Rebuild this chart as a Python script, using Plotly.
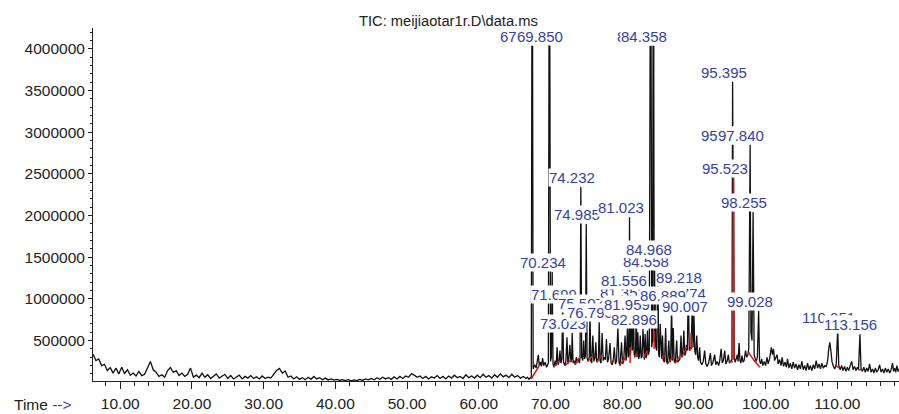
import plotly.graph_objects as go

# ---------------- data (counts in thousands, times in minutes) ----------------
QUIET_T0 = 6.2
QUIET_DT = 0.4
quiet_tic_k = [
    340, 260, 280, 200, 215, 140, 175, 110, 170, 100,
    180, 105, 150, 85, 110, 75, 130, 80, 95, 180,
    250, 150, 120, 70, 90, 60, 140, 175, 120, 140,
    80, 110, 70, 95, 170, 60, 85, 55, 110, 60,
    90, 45, 75, 100, 50, 70, 95, 45, 80, 40,
    60, 85, 40, 70, 50, 80, 45, 65, 40, 75,
    45, 60, 50, 90, 140, 165, 110, 135, 60, 75,
    40, 65, 35, 55, 30, 60, 35, 70, 40, 55,
    30, 50, 28, 40, 25, 35, 22, 30, 20, 32,
    18, 28, 20, 35, 22, 40, 28, 45, 30, 55,
    35, 60, 40, 55, 35, 65, 40, 70, 45, 75,
    60, 100, 85, 60, 75, 45, 70, 40, 65, 50,
    80, 45, 70, 40, 75, 50, 85, 55, 70, 45,
    90, 55, 75, 50, 85, 55, 95, 60, 80, 50,
    90, 60, 100, 65, 85, 55, 95, 60, 80, 50,
    70, 45,
]

seg_67_80 = [
    (66.8, 60), (67.0, 35), (67.2, 55), (67.32, 45), (67.448, 6500), (67.58, 160),
    (67.8, 210), (68.0, 170), (68.15, 230), (68.3, 330), (68.45, 200), (68.6, 240),
    (68.75, 190), (68.9, 290), (69.05, 200), (69.25, 240), (69.45, 180), (69.7, 230),
    (69.85, 6500), (70.0, 250), (70.12, 300), (70.234, 1326), (70.35, 220), (70.5, 180),
    (70.65, 260), (70.8, 200), (70.92, 420), (71.05, 210), (71.2, 250), (71.32, 380),
    (71.45, 230), (71.58, 280), (71.699, 935), (71.82, 240), (72.0, 200), (72.15, 260),
    (72.3, 540), (72.42, 220), (72.55, 270), (72.7, 450), (72.85, 240), (72.95, 280),
    (73.023, 593), (73.15, 230), (73.3, 260), (73.45, 210), (73.6, 300), (73.75, 240),
    (73.9, 280), (74.05, 230), (74.12, 300), (74.232, 2342), (74.35, 300), (74.5, 260),
    (74.62, 500), (74.75, 280), (74.88, 320), (74.985, 1903), (75.1, 290), (75.25, 250),
    (75.4, 300), (75.507, 833), (75.62, 260), (75.75, 230), (75.9, 560), (76.05, 250),
    (76.2, 290), (76.32, 480), (76.45, 240), (76.6, 280), (76.68, 260), (76.795, 719),
    (76.92, 250), (77.05, 230), (77.2, 590), (77.35, 260), (77.5, 300), (77.65, 270),
    (77.8, 520), (77.95, 240), (78.1, 280), (78.3, 470), (78.45, 230), (78.6, 210),
    (78.75, 260), (78.9, 420), (79.05, 220), (79.2, 250), (79.4, 660), (79.55, 240),
    (79.7, 200), (79.9, 480), (80.05, 220),
]

seg_80_92 = [
    (80.2, 250), (80.4, 560), (80.52, 260), (80.6, 290), (80.72, 650), (80.85, 300),
    (80.93, 330), (81.023, 1981), (81.12, 320), (81.22, 400), (81.35, 965), (81.45, 380),
    (81.556, 1109), (81.66, 340), (81.78, 300), (81.86, 380), (81.959, 821), (82.06, 300),
    (82.18, 600), (82.3, 280), (82.4, 320), (82.52, 560), (82.65, 290), (82.78, 310),
    (82.896, 641), (83.0, 300), (83.1, 270), (83.2, 580), (83.32, 290), (83.42, 320),
    (83.52, 620), (83.65, 330), (83.78, 380), (83.966, 6500), (84.12, 420), (84.22, 500),
    (84.358, 6500), (84.46, 480), (84.558, 1338), (84.66, 430), (84.82, 380), (84.968, 1476),
    (85.08, 340), (85.18, 300), (85.3, 700), (85.42, 300), (85.5, 280), (85.62, 560),
    (85.75, 260), (85.9, 240), (86.06, 650), (86.18, 250), (86.32, 220), (86.5, 500),
    (86.62, 240), (86.75, 260), (86.889, 930), (87.0, 260), (87.12, 650), (87.25, 250),
    (87.4, 230), (87.6, 500), (87.72, 240), (87.88, 260), (88.05, 280), (88.2, 560),
    (88.32, 300), (88.45, 330), (88.6, 620), (88.72, 320), (88.85, 350), (88.95, 450),
    (89.08, 380), (89.218, 1146), (89.35, 380), (89.5, 420), (89.62, 400), (89.774, 953),
    (89.88, 420), (90.007, 797), (90.12, 380), (90.25, 330), (90.4, 560), (90.52, 300),
    (90.65, 260), (90.8, 420), (90.92, 240), (91.1, 210), (91.3, 250), (91.5, 380),
    (91.65, 220), (91.85, 190),
]

seg_92_119 = [
    (92.05, 230), (92.3, 350), (92.45, 200), (92.65, 240), (92.9, 330), (93.05, 210),
    (93.25, 250), (93.45, 200), (93.6, 260), (93.8, 400), (93.95, 230), (94.1, 260),
    (94.3, 380), (94.45, 220), (94.65, 260), (94.8, 330), (94.95, 230), (95.1, 250),
    (95.3, 270), (95.395, 3607), (95.42, 2600), (95.437, 2846), (95.47, 2300), (95.523, 2450),
    (95.62, 300), (95.75, 240), (95.9, 280), (96.05, 330), (96.15, 250), (96.3, 470),
    (96.42, 260), (96.55, 230), (96.7, 320), (96.85, 240), (97.0, 260), (97.2, 380),
    (97.35, 300), (97.5, 320), (97.65, 400), (97.84, 2852), (97.95, 600), (98.1, 500),
    (98.255, 2041), (98.4, 330), (98.55, 280), (98.7, 250), (98.85, 300), (99.028, 857),
    (99.15, 260), (99.3, 220), (99.45, 280), (99.6, 200), (99.8, 250), (100.0, 200),
    (100.2, 300), (100.35, 220), (100.55, 280), (100.8, 420), (100.95, 330), (101.1, 400),
    (101.25, 260), (101.4, 300), (101.6, 330), (101.75, 220), (101.95, 270), (102.15, 200),
    (102.3, 300), (102.5, 190), (102.7, 240), (102.9, 180), (103.05, 280), (103.25, 170),
    (103.45, 230), (103.65, 160), (103.85, 240), (104.05, 170), (104.25, 220), (104.45, 150),
    (104.65, 210), (104.85, 160), (105.05, 250), (105.25, 150), (105.45, 200), (105.65, 140),
    (105.85, 230), (106.05, 150), (106.25, 200), (106.45, 140), (106.65, 210), (106.85, 160),
    (107.05, 260), (107.25, 170), (107.45, 220), (107.65, 160), (107.85, 230), (108.05, 170),
    (108.25, 200), (108.45, 190), (108.65, 260), (108.8, 400), (108.95, 480), (109.1, 380),
    (109.25, 250), (109.45, 190), (109.65, 160), (109.85, 220), (110.051, 640), (110.2, 200),
    (110.4, 150), (110.6, 200), (110.8, 140), (111.0, 190), (111.2, 130), (111.4, 180),
    (111.6, 140), (111.8, 200), (112.0, 250), (112.2, 150), (112.4, 190), (112.6, 140),
    (112.8, 180), (112.95, 150), (113.156, 575), (113.3, 170), (113.5, 130), (113.7, 180),
    (113.9, 120), (114.1, 170), (114.3, 130), (114.5, 220), (114.7, 120), (114.9, 160),
    (115.1, 110), (115.3, 170), (115.5, 120), (115.7, 150), (115.9, 210), (116.1, 120),
    (116.3, 160), (116.5, 110), (116.7, 170), (116.9, 120), (117.1, 160), (117.3, 110),
    (117.5, 150), (117.7, 230), (117.85, 130), (118.0, 170), (118.15, 120), (118.3, 200),
    (118.45, 130), (118.6, 160),
]

# integration marks drawn in red (each a separate polyline)
red_marks = [
    [(67.35, 45), (68.5, 210)],
    [(70.4, 180), (71.2, 250)],
    [(72.0, 200), (72.9, 270)],
    [(73.4, 210), (74.1, 300)],
    [(75.2, 250), (75.9, 320)],
    [(76.45, 240), (77.2, 330)],
    [(78.4, 230), (78.9, 280)],
    [(79.6, 200), (80.5, 300)],
    [(81.1, 230), (81.1, 420)],
    [(81.7, 300), (82.0, 340)],
    [(83.0, 290), (83.5, 380)],
    [(84.45, 400), (84.45, 620)],
    [(85.5, 280), (86.0, 330)],
    [(86.3, 220), (87.0, 300)],
    [(87.4, 230), (88.0, 310)],
    [(88.3, 300), (89.0, 420)],
    [(89.4, 380), (90.0, 450)],
    [(89.6, 400), (89.6, 590)],
    [(94.9, 240), (95.45, 250)],
    [(95.47, 270), (95.523, 2450), (95.58, 280)],
    [(97.6, 360), (98.4, 260), (99.2, 180)],
    [(109.8, 200), (110.3, 170)],
    [(112.9, 150), (113.4, 150)],
]

# peak labels, in drawing order (later ones cover earlier ones)
label_rt = [67.448, 69.850, 70.234, 71.699, 73.023, 74.232, 74.985, 75.507, 76.795,
            81.023, 81.352, 81.556, 81.959, 82.896, 83.750, 84.358, 84.558, 84.968,
            89.218, 89.774, 86.889, 90.007, 95.437, 95.395, 95.523, 97.840, 98.255,
            99.028, 110.051, 113.156]
label_height_k = [6500, 6500, 1326, 935, 593, 2342, 1903, 833, 719,
                  1981, 965, 1109, 821, 641, 6500, 6500, 1338, 1476,
                  1146, 953, 930, 797, 2846, 3607, 2450, 2852, 2041,
                  857, 665, 575]

x_ticks = [10, 20, 30, 40, 50, 60, 70, 80, 90, 100, 110]
y_ticks = [500000, 1000000, 1500000, 2000000, 2500000, 3000000, 3500000, 4000000]

X_RANGE = [6.2, 118.6]
Y_RANGE = [15000, 4250000]

# ---------------- build traces ----------------
rt = [QUIET_T0 + QUIET_DT * i for i in range(len(quiet_tic_k))]
tic = [v * 1000 for v in quiet_tic_k]
for seg in (seg_67_80, seg_80_92, seg_92_119):
    rt += [p[0] for p in seg]
    tic += [p[1] * 1000 for p in seg]

red_x, red_y = [], []
for mark in red_marks:
    red_x += [p[0] for p in mark] + [None]
    red_y += [p[1] * 1000 for p in mark] + [None]

FONT = "Liberation Sans, Arial, Helvetica, sans-serif"
BLUE = "#3442a8"

fig = go.Figure()
fig.add_trace(go.Scatter(x=rt, y=tic, mode="lines",
                         line=dict(color="#111111", width=1.3), hoverinfo="skip"))
fig.add_trace(go.Scatter(x=red_x, y=red_y, mode="lines", connectgaps=False,
                         line=dict(color="#d41a1a", width=1.5), hoverinfo="skip"))

annotations = []
for t, h in zip(label_rt, label_height_k):
    val = h * 1000
    off = val >= Y_RANGE[1]
    annotations.append(dict(
        x=t, y=Y_RANGE[1] if off else val, xref="x", yref="y",
        text=f"{t:.3f}", showarrow=False, xanchor="center", yanchor="middle",
        xshift=-9, yshift=-8 if off else 9.5,
        font=dict(family=FONT, size=15, color=BLUE),
        bgcolor="white", borderpad=0,
    ))

annotations.append(dict(
    x=(448 - 93) / 806, y=(381 - 21) / 353, xref="paper", yref="paper",
    text="TIC: meijiaotar1r.D\\data.ms", showarrow=False,
    xanchor="center", yanchor="middle",
    font=dict(family=FONT, size=14.7, color="#222222"),
))
annotations.append(dict(
    x=(12 - 93) / 806, y=(381 - 404) / 353, xref="paper", yref="paper",
    text=f"Time <span style='color:{BLUE}'>--&gt;</span>", showarrow=False,
    xanchor="left", yanchor="middle",
    font=dict(family=FONT, size=15.5, color="#222222"),
))

fig.update_layout(
    width=899, height=414,
    margin=dict(l=93, r=0, t=28, b=33, pad=0),
    paper_bgcolor="white", plot_bgcolor="white",
    showlegend=False,
    annotations=annotations,
    font=dict(family=FONT, size=15.5, color="#222222"),
    xaxis=dict(
        range=X_RANGE, tickvals=x_ticks, ticktext=[f"{v:.2f}" for v in x_ticks],
        ticks="outside", ticklen=7, tickcolor="#222", tickwidth=1,
        showline=True, linecolor="#222", linewidth=1,
        showgrid=False, zeroline=False, ticklabelstandoff=1,
        minor=dict(dtick=2, tick0=0, ticks="outside", ticklen=4, tickcolor="#222", showgrid=False),
        tickfont=dict(family=FONT, size=15.5, color="#222222"),
    ),
    yaxis=dict(
        range=Y_RANGE, tickvals=y_ticks, ticktext=[str(v) for v in y_ticks],
        ticks="outside", ticklen=4, tickcolor="#222", tickwidth=1,
        showline=True, linecolor="#222", linewidth=1,
        showgrid=False, zeroline=False,
        minor=dict(dtick=100000, tick0=0, ticks="outside", ticklen=2, tickcolor="#222", showgrid=False),
        tickfont=dict(family=FONT, size=15.5, color="#222222"),
    ),
)

fig.write_html("out.html", config={"displayModeBar": False})
